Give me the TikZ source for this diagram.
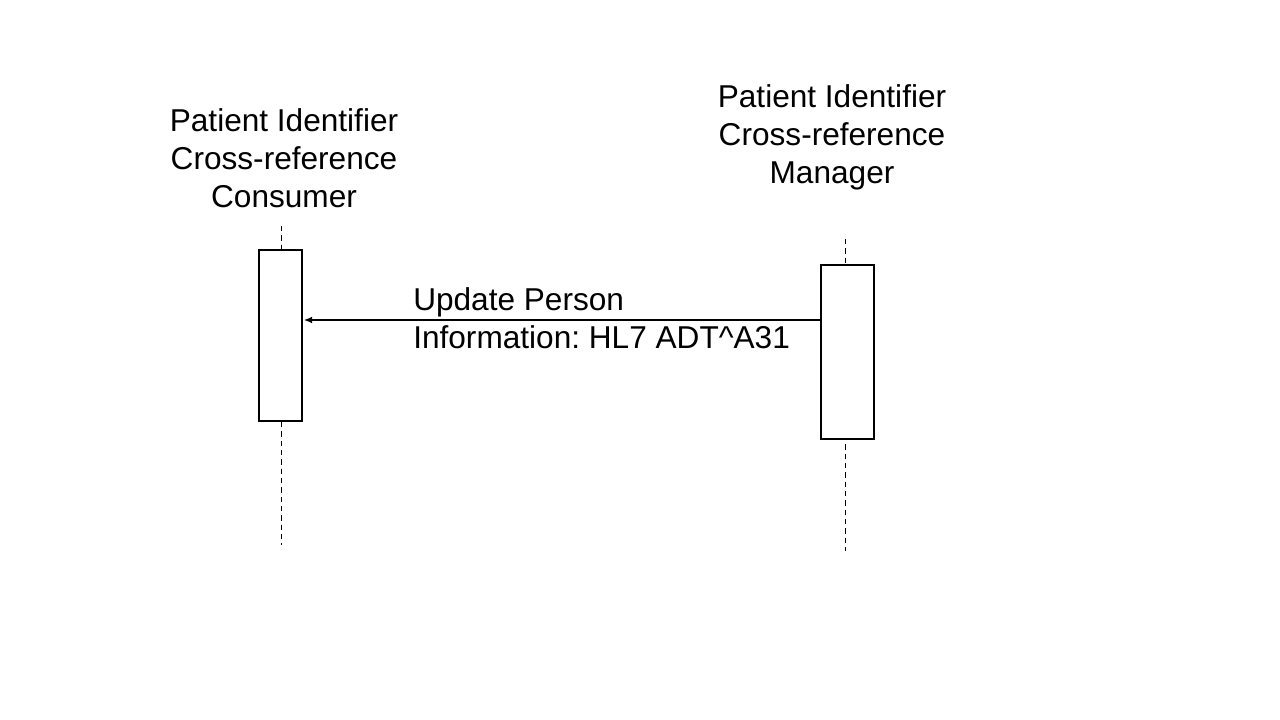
\documentclass[tikz,border=0pt]{standalone}
\usepackage{fontspec}
\setmainfont{Liberation Sans}
\usetikzlibrary{arrows.meta}
\frenchspacing
\begin{document}
\begin{tikzpicture}[x=0.75pt,y=-0.75pt,
  lifeline/.style={draw,line width=0.75pt,dash pattern=on 4pt off 3pt},
  actbox/.style={draw,fill=white,line width=0.9pt},
  title/.style={align=center,font=\fontsize{23.7}{28.5}\selectfont,inner sep=0pt},
  msg/.style={align=left,font=\fontsize{23.7}{28.5}\selectfont\frenchspacing,inner sep=0pt,anchor=north west}]
\useasboundingbox (0,0) rectangle (1280,720);
% titles
\node[title] (tl) at (284,158) {Patient Identifier\\Cross-reference\\Consumer};
\node[title] (tr) at (832,137) {Patient Identifier\\Cross-reference\\Manager};
% lifelines
\coordinate (l1) at (281,226); \coordinate (l2) at (281,545);
\coordinate (r1) at (845,239); \coordinate (r2) at (845,551);
\draw[lifeline] (l1) -- (l2);
\draw[lifeline] (r1) -- (r2);
% activation boxes
\draw[actbox] (259,250) rectangle (302,421);
\draw[actbox] (821,265) rectangle (874,439);
\coordinate (src) at (821,320);
\coordinate (dst) at (304,320);
\draw[line width=0.9pt,-{Latex[length=6pt,width=5pt]}] (src) -- (dst);
\node[msg] (m) at (413,287) {Update Person\\Information: HL7 ADT\textasciicircum A31};
\end{tikzpicture}
\end{document}
